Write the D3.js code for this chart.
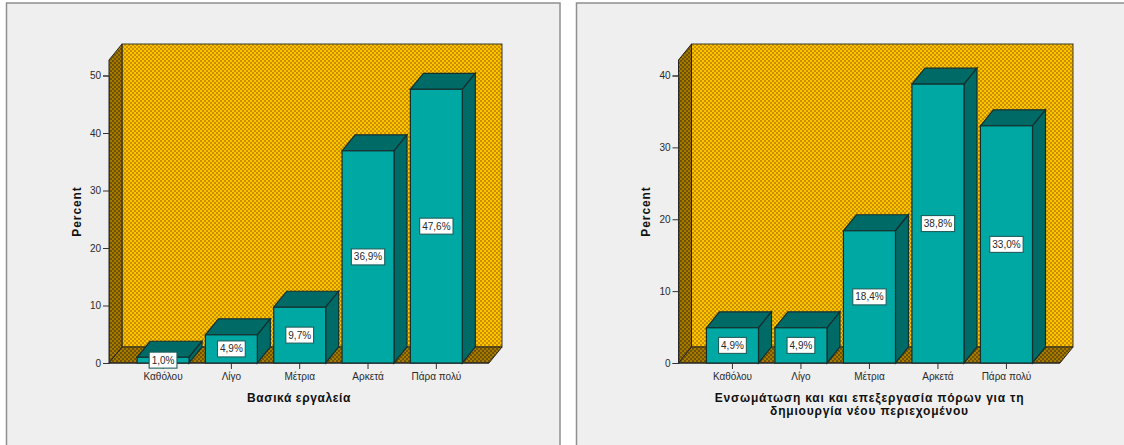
<!DOCTYPE html>
<html><head><meta charset="utf-8">
<script src="https://cdnjs.cloudflare.com/ajax/libs/d3/7.8.5/d3.min.js"></script>
<style>html,body{margin:0;padding:0;background:#fff;overflow:hidden}svg{display:block}text{font-family:"Liberation Sans",Arial,sans-serif;fill:#2a2a2a}</style>
</head><body><svg id="c" width="1124" height="445"></svg>
<script>
const categories = ["Καθόλου","Λίγο","Μέτρια","Αρκετά","Πάρα πολύ"];
const valuesLeft = [1.0,4.9,9.7,36.9,47.6];
const valuesRight = [4.9,4.9,18.4,38.8,33.0];
const ticksLeft = [0,10,20,30,40,50];
const ticksRight = [0,10,20,30,40];
const titleLeft = ["Βασικά εργαλεία"];
const titleRight = ["Ενσωμάτωση και και επεξεργασία πόρων για τη","δημιουργία νέου περιεχομένου"];
const yLabel = "Percent";

const svg = d3.select("#c");
const defs = svg.append("defs");
function pat(id,bg,fg){
  const p=defs.append("pattern").attr("id",id).attr("width",4).attr("height",4).attr("patternUnits","userSpaceOnUse");
  p.append("rect").attr("width",4).attr("height",4).attr("fill",bg);
  p.append("rect").attr("x",0).attr("y",0).attr("width",2).attr("height",2).attr("fill",fg);
  p.append("rect").attr("x",2).attr("y",2).attr("width",2).attr("height",2).attr("fill",fg);
}
pat("wall","#ffc400","#c89000");
pat("side","#a67a00","#6f5200");

const depthX=13, depthY=16;
const INK="#14302f", TOP="#006a66", FRONT="#00a8a4";

function chart(o){
  const g=svg.append("g");
  g.append("rect").attr("x",o.fx).attr("y",3).attr("width",o.fw).attr("height",445).attr("fill","#efefef").attr("stroke","#8f8f8f").attr("stroke-width",1.5);
  const x=d3.scaleBand().domain(categories).range(o.xr).paddingInner(0.24).paddingOuter(0.12);
  const y=d3.scaleLinear().domain([0,o.ymax]).range([363,o.y1]);
  const ax=o.ax, ar=o.ar, top=o.top, y0=y(0);
  const bk=y0-depthY;
  g.append("rect").attr("x",ax+depthX).attr("y",top).attr("width",ar-ax-depthX).attr("height",bk-top).attr("fill","url(#wall)").attr("stroke","#3a3a2a").attr("stroke-width",1);
  g.append("path").attr("d",`M${ax},${y0}L${ax},${top+depthY}L${ax+depthX},${top}L${ax+depthX},${bk}Z`).attr("fill","url(#side)").attr("stroke","#222").attr("stroke-width",1);
  g.append("path").attr("d",`M${ax},${y0}L${ax+depthX},${bk}L${ar},${bk}L${ar-depthX},${y0}Z`).attr("fill","url(#side)").attr("stroke","#222").attr("stroke-width",1);
  const yA=d3.axisLeft(y).tickValues(o.ticks).tickSize(6).tickPadding(2);
  const ga=g.append("g").attr("transform",`translate(${ax},0)`).call(yA);
  ga.select(".domain").attr("stroke","#333");
  ga.selectAll("line").attr("stroke","#333");
  ga.selectAll("text").style("font-size","10px");
  const xA=d3.axisBottom(x).tickSize(6).tickPadding(4);
  const gx=g.append("g").attr("transform",`translate(0,${y0})`).call(xA);
  gx.select(".domain").remove();
  gx.selectAll("line").attr("stroke","#333");
  gx.selectAll("text").style("font-size","10px");
  g.append("line").attr("x1",ax).attr("x2",ar-depthX).attr("y1",y0).attr("y2",y0).attr("stroke","#222");
  const data=categories.map((c,i)=>({c,v:o.values[i]}));
  const b=g.selectAll("g.bar").data(data).join("g").attr("class","bar");
  const w=x.bandwidth();
  b.append("path").attr("fill",TOP).attr("stroke",INK).attr("stroke-width",1.2)
    .attr("d",d=>{const l=x(d.c),r=l+w,t=y(d.v);return `M${l},${t}L${l+depthX},${t-depthY}L${r+depthX},${t-depthY}L${r},${t}Z`;});
  b.append("path").attr("fill",TOP).attr("stroke",INK).attr("stroke-width",1.2)
    .attr("d",d=>{const r=x(d.c)+w,t=y(d.v);return `M${r},${t}L${r+depthX},${t-depthY}L${r+depthX},${y0-depthY}L${r},${y0}Z`;});
  b.append("rect").attr("fill",FRONT).attr("stroke",INK).attr("stroke-width",1.2)
    .attr("x",d=>x(d.c)).attr("y",d=>y(d.v)).attr("width",w).attr("height",d=>y0-y(d.v));
  const lab=g.selectAll("g.lab").data(data).join("g").attr("class","lab")
    .attr("transform",d=>`translate(${x(d.c)+w/2},${(y(d.v)+y0)/2})`);
  const boxes=lab.append("rect").attr("fill","#fff").attr("stroke","#1f5f5d").attr("stroke-width",1.1);
  const texts=lab.append("text").attr("text-anchor","middle").attr("dy","0.35em").style("font-size","10px").text(d=>d.v.toFixed(1).replace(".",",")+"%");
  boxes.each(function(d,i){
    const tw=texts.nodes()[i].getComputedTextLength()+5;
    d3.select(this).attr("x",-tw/2).attr("width",tw).attr("y",-8).attr("height",16);
  });
  g.append("text").attr("transform",`translate(${ax-28.5},211.5) rotate(-90)`).attr("text-anchor","middle").style("font-size","12px").style("font-weight","bold").style("letter-spacing","0.9px").style("fill","#111").text(yLabel);
  o.title.forEach((t,i)=>g.append("text").attr("x",o.tx).attr("y",402+i*13).attr("text-anchor","middle").style("font-size","12px").style("font-weight","bold").style("letter-spacing",o.ls).style("fill","#111").text(t));
}
chart({fx:6.5,fw:553.5,xr:[128.9,470.5],ax:109,ar:502,top:44,ymax:50,y1:75.5,ticks:ticksLeft,values:valuesLeft,title:titleLeft,tx:299,ls:"0.6px"});
chart({fx:576.5,fw:560,xr:[698.2,1040.7],ax:678.5,ar:1073,top:44,ymax:40,y1:75.5,ticks:ticksRight,values:valuesRight,title:titleRight,tx:869.5,ls:"0.8px"});
</script></body></html>
